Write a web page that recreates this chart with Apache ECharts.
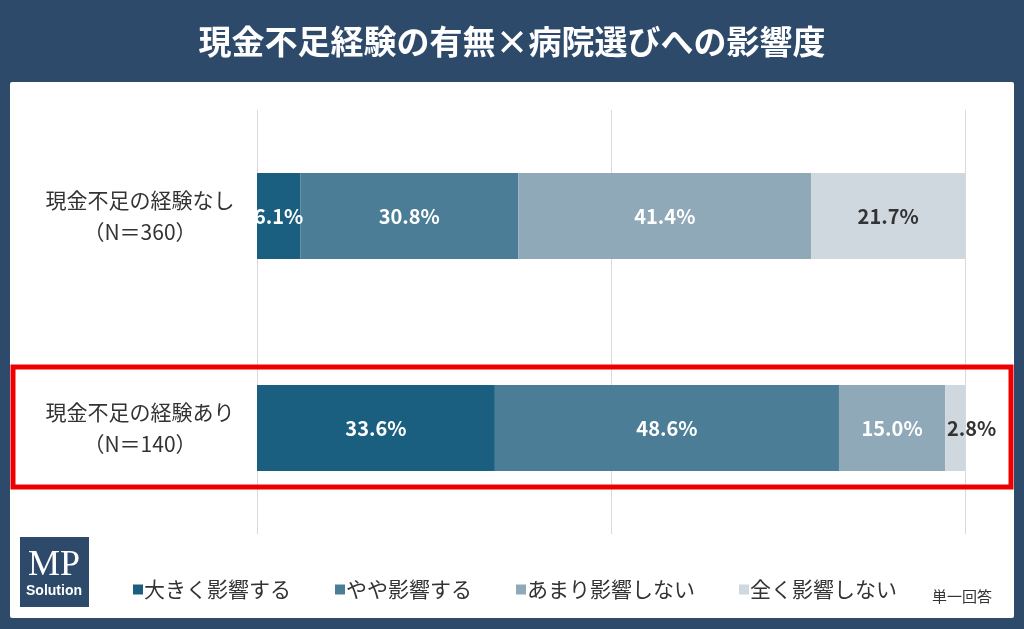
<!DOCTYPE html>
<html><head><meta charset="utf-8">
<script src="https://cdn.jsdelivr.net/npm/echarts@6/dist/echarts.min.js"></script>
<style>html,body{margin:0;padding:0;background:#2e4a6b}#chart{width:1024px;height:629px}</style>
</head><body><div id="chart"></div>
<script>
var categories = ['現金不足の経験あり\n（N＝140）', '現金不足の経験なし\n（N＝360）'];
var seriesNames = ['大きく影響する', 'やや影響する', 'あまり影響しない', '全く影響しない'];
var big = [33.6, 6.1];
var some = [48.6, 30.8];
var little = [15.0, 41.4];
var none = [2.8, 21.7];
var colors = ['#1b5f80', '#4b7e96', '#8fa9b8', '#cfd7df'];
var labelColors = ['#fff', '#fff', '#fff', '#333'];

var chart = echarts.init(document.getElementById('chart'));
var font = '"Noto Sans CJK JP", sans-serif';
var values = [big, some, little, none];
var series = values.map(function (d, i) {
  return {
    name: seriesNames[i], type: 'bar', stack: 'a', data: d, barWidth: 86,
    itemStyle: { color: colors[i] },
    label: {
      show: true, fontFamily: font, fontSize: 20, fontWeight: 'bold', color: labelColors[i],
      position: 'inside',
      formatter: function (p) { return p.value.toFixed(1) + '%'; }
    }
  };
});
// small 2.8% label sits to the right of the bar
series[3].data = [{ value: 2.8, label: { position: 'right', distance: -18, color: '#333' } }, 21.7];

chart.setOption({
  backgroundColor: '#2e4a6b',
  title: { text: '現金不足経験の有無×病院選びへの影響度', left: 'center', top: 20,
    textStyle: { color: '#fff', fontSize: 33, fontWeight: 'bold', fontFamily: font } },
  graphic: [
    { type: 'rect', shape: { x: 10, y: 82, width: 1004, height: 536, r: 2 }, style: { fill: '#fff' }, z: -10 },
    { type: 'rect', shape: { x: 13, y: 367, width: 998, height: 120 }, style: { fill: 'none', stroke: '#ee0000', lineWidth: 5 }, z: 10 },
    { type: 'rect', shape: { x: 20, y: 537, width: 69, height: 70 }, style: { fill: '#2e4a6b' } },
    { type: 'text', x: 54, y: 566, style: { text: 'MP', fill: '#fff', font: '36px "Liberation Serif", serif', textAlign: 'center', textVerticalAlign: 'middle' } },
    { type: 'text', x: 54, y: 591, style: { text: 'Solution', fill: '#fff', font: 'bold 14px "Liberation Sans Narrow", "Liberation Sans", sans-serif', textAlign: 'center', textVerticalAlign: 'middle' } },
    { type: 'text', x: 962, y: 596, style: { text: '単一回答', fill: '#333', font: '15px ' + font, textAlign: 'center', textVerticalAlign: 'middle' } }
  ],
  legend: { bottom: 24, left: 128, itemWidth: 10, itemHeight: 10, itemGap: 44, icon: 'rect',
    textStyle: { fontFamily: font, fontSize: 21, color: '#333', padding: [0, 0, 0, -4] } },
  grid: { left: 257, right: 59, top: 110, bottom: 95 },
  xAxis: { type: 'value', min: 0, max: 100, interval: 50,
    axisLabel: { show: false }, axisLine: { show: false }, axisTick: { show: false },
    splitLine: { lineStyle: { color: '#d9d9d9', width: 1 } } },
  yAxis: { type: 'category', data: categories,
    axisLine: { show: false }, axisTick: { show: false },
    axisLabel: { fontFamily: font, fontSize: 21, color: '#333', lineHeight: 32, margin: 117, align: 'center' } },
  series: series
});
</script></body></html>
